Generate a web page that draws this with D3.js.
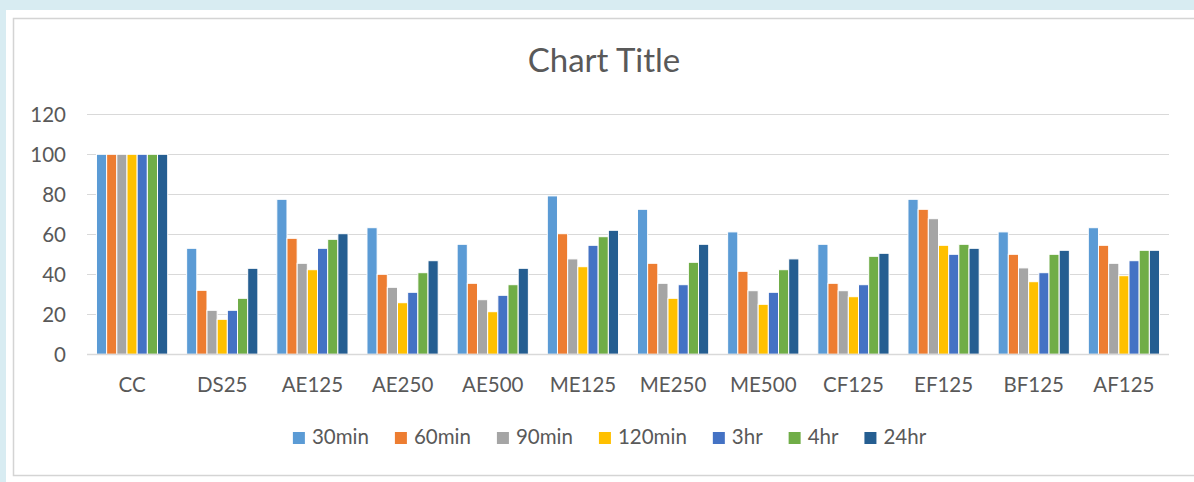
<!DOCTYPE html>
<html>
<head>
<meta charset="utf-8">
<script src="https://cdn.jsdelivr.net/npm/d3@7"></script>
<style>
  html, body { margin: 0; padding: 0; background: #d8ecf2; }
  svg { display: block; }
</style>
</head>
<body>
<svg id="chart" width="1194" height="482"></svg>
<script>
// Categories along the x axis
const categories = ["CC", "DS25", "AE125", "AE250", "AE500", "ME125", "ME250", "ME500", "CF125", "EF125", "BF125", "AF125"];

// Series names (legend) and their values per category
const seriesNames = ["30min", "60min", "90min", "120min", "3hr", "4hr", "24hr"];
const v30min  = [100, 53,   77.5, 63.3, 55,   79.2, 72.5, 61.2, 55,   77.5, 61.2, 63.3];
const v60min  = [100, 32,   58,   40,   35.5, 60.3, 45.5, 41.5, 35.5, 72.5, 50,   54.5];
const v90min  = [100, 22,   45.5, 33.5, 27.3, 47.7, 35.5, 31.8, 31.8, 67.8, 43.2, 45.5];
const v120min = [100, 17.5, 42.3, 25.8, 21.3, 43.8, 28,   25,   28.8, 54.5, 36.3, 39.3];
const v3hr    = [100, 22,   53,   31,   29.5, 54.5, 34.8, 31,   34.8, 50,   40.8, 46.8];
const v4hr    = [100, 28,   57.5, 40.8, 34.8, 58.8, 46,   42.3, 49,   55,   50,   52];
const v24hr   = [100, 43,   60.3, 46.8, 43,   62,   55,   47.7, 50.5, 53,   52,   52];

// Y axis ticks
const yTicks = [0, 20, 40, 60, 80, 100, 120];

const seriesValues = [v30min, v60min, v90min, v120min, v3hr, v4hr, v24hr];
const colors = ["#5b9bd5", "#ed7d31", "#a5a5a5", "#ffc000", "#4472c4", "#70ad47", "#255e91"];

const font = "Lato, 'Open Sans', sans-serif";
const textColor = "#595959";
const gridColor = "#d9d9d9";

const svg = d3.select("#chart");

// Chart background and frame
svg.append("rect").attr("x", 6).attr("y", 10).attr("width", 1188).attr("height", 472).attr("fill", "#ffffff");
svg.append("rect").attr("x", 13.5).attr("y", 18.5).attr("width", 1200).attr("height", 457)
  .attr("fill", "none").attr("stroke", "#d4d4d4").attr("stroke-width", 1.5);

const plot = { left: 87, right: 1169, top: 114.3, bottom: 354.3 };

const x = d3.scaleBand().domain(categories).range([plot.left, plot.right])
  .paddingInner(0.21).paddingOuter(0.105);
const xs = d3.scaleBand().domain(seriesNames).range([0, x.bandwidth()]).padding(0);
const y = d3.scaleLinear().domain([0, 120]).range([plot.bottom, plot.top]);

// Gridlines
svg.append("g").selectAll("line").data(yTicks).join("line")
  .attr("x1", plot.left).attr("x2", plot.right)
  .attr("y1", d => Math.round(y(d)) + 0.5).attr("y2", d => Math.round(y(d)) + 0.5)
  .attr("stroke", gridColor).attr("stroke-width", 1.2);

// Y tick labels
const yAxis = d3.axisLeft(y).tickValues(yTicks).tickSize(0).tickPadding(0);
const gy = svg.append("g").attr("transform", `translate(${plot.left - 21},0)`).call(yAxis);
gy.select(".domain").remove();
gy.selectAll("text").attr("font-family", font).attr("font-size", 20.5).attr("fill", textColor)
  .attr("dy", "0.36em");

// Bars
const groups = svg.append("g").selectAll("g").data(categories).join("g")
  .attr("transform", d => `translate(${x(d)},0)`);
groups.selectAll("rect")
  .data((c, ci) => seriesNames.map((s, si) => ({ s, si, v: seriesValues[si][ci] })))
  .join("rect")
  .attr("x", d => xs(d.s))
  .attr("y", d => y(d.v))
  .attr("width", xs.bandwidth())
  .attr("height", d => y(0) - y(d.v))
  .attr("fill", d => colors[d.si])
  .attr("stroke", "#ffffff").attr("stroke-width", 1);

// Baseline
svg.append("line").attr("x1", plot.left).attr("x2", plot.right)
  .attr("y1", Math.round(y(0)) + 0.5).attr("y2", Math.round(y(0)) + 0.5)
  .attr("stroke", gridColor).attr("stroke-width", 1.5);

// X axis labels
const xAxis = d3.axisBottom(x).tickSize(0).tickPadding(0);
const gx = svg.append("g").attr("transform", `translate(0,${plot.bottom + 38})`).call(xAxis);
gx.select(".domain").remove();
gx.selectAll("text").attr("font-family", font).attr("font-size", 20.5).attr("fill", textColor)
  .attr("dy", 0);

// Title
svg.append("text").attr("x", 604).attr("y", 72).attr("text-anchor", "middle")
  .attr("font-family", font).attr("font-size", 33).attr("fill", textColor).text("Chart Title");

// Legend
const legend = svg.append("g");
const items = legend.selectAll("g").data(seriesNames).join("g");
items.append("rect").attr("width", 12).attr("height", 12).attr("y", -12)
  .attr("fill", (d, i) => colors[i]);
items.append("text").attr("x", 19).attr("y", 0)
  .attr("font-family", font).attr("font-size", 20.5).attr("fill", textColor).text(d => d);
const gap = 26;
let cursor = 0;
items.each(function () {
  const g = d3.select(this);
  g.attr("transform", `translate(${cursor},0)`);
  const w = g.select("text").node().getComputedTextLength();
  cursor += 19 + w + gap;
});
const totalW = cursor - gap;
legend.attr("transform", `translate(${609.5 - totalW / 2},444)`);
</script>
</body>
</html>
